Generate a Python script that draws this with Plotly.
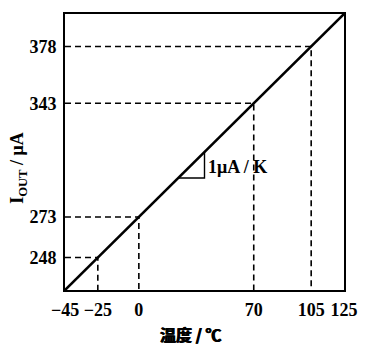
import plotly.graph_objects as go

# Output current vs temperature (1 µA/K transfer characteristic)
line_temp = [-45, 125]
line_current = [228, 398]

# Marked operating points
mark_temp = [-25, 0, 70, 105]
mark_current = [248, 273, 343, 378]

# Axis ticks
x_ticks = [-45, -25, 0, 70, 105, 125]
x_ticktext = ["\u221245", "\u221225", "0", "70", "105", "125"]
y_ticks = [248, 273, 343, 378]
y_ticktext = ["248", "273", "343", "378"]

# Slope triangle corners (temperature / current)
tri_temp = [24, 40]
tri_current = [297, 313]

x_min, x_max = line_temp
y_min, y_max = line_current

serif = "Liberation Serif"
fig = go.Figure()

# Dashed guides from each marked point to both axes
for t, i in zip(mark_temp, mark_current):
    fig.add_trace(go.Scatter(
        x=[x_min, t, t], y=[i, i, y_min], mode="lines",
        line=dict(color="black", width=1.6, dash="6px,4px"),
        hoverinfo="skip", showlegend=False))

# Main characteristic
fig.add_trace(go.Scatter(
    x=line_temp, y=line_current, mode="lines",
    line=dict(color="black", width=2.6), showlegend=False))

# Slope triangle: horizontal leg then vertical leg
fig.add_trace(go.Scatter(
    x=[tri_temp[0], tri_temp[1], tri_temp[1]],
    y=[tri_current[0], tri_current[0], tri_current[1]],
    mode="lines", line=dict(color="black", width=1.4),
    hoverinfo="skip", showlegend=False))

fig.add_annotation(
    x=tri_temp[1] + 1.2, y=304, xref="x", yref="y", text="1\u03bcA / K",
    showarrow=False, xanchor="left", yanchor="middle",
    font=dict(family=serif, size=18, color="black", weight="bold"))

fig.add_annotation(
    x=-0.167, y=0.444, xref="paper", yref="paper",
    xanchor="center", yanchor="middle",
    text="I<sub>OUT</sub> / \u03bcA", textangle=-90, showarrow=False,
    font=dict(family=serif, size=18, color="black", weight="bold"))

fig.add_annotation(
    x=0.45, y=-0.159, xref="paper", yref="paper",
    xanchor="center", yanchor="middle",
    text="温度 / \u2103", showarrow=False,
    font=dict(family="Noto Sans CJK SC", size=16, color="black", weight="bold",
              shadow="0.5px 0 0 black, -0.5px 0 0 black"))

axis_common = dict(
    showline=True, mirror=True, linecolor="black", linewidth=2,
    showgrid=False, zeroline=False, ticks="",
    tickfont=dict(family=serif, size=18, color="black", weight="bold"))

fig.update_xaxes(range=[x_min, x_max], tickvals=x_ticks, ticktext=x_ticktext,
                 ticklabelstandoff=2, **axis_common)
fig.update_yaxes(range=[y_min, y_max], tickvals=y_ticks, ticktext=y_ticktext,
                 ticklabelstandoff=3, **axis_common)

fig.update_layout(
    width=370, height=346,
    margin=dict(l=65, r=18, t=13, b=56),
    paper_bgcolor="white", plot_bgcolor="white",
    showlegend=False)

fig.write_html("out.html")
